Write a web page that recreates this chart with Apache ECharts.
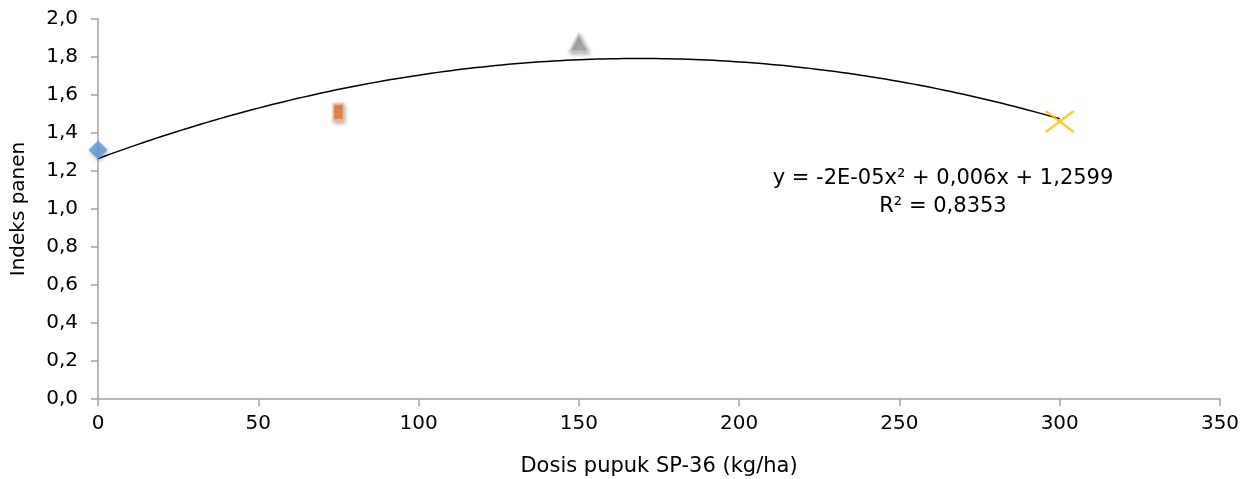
<!DOCTYPE html>
<html><head><meta charset="utf-8">
<script src="https://cdn.jsdelivr.net/npm/echarts@6/dist/echarts.min.js"></script>
<style>html,body{margin:0;padding:0;background:#fff}#c{width:1250px;height:479px}</style>
</head><body><div id="c"></div>
<script>
const doses = [0, 75, 150, 300];
const harvestIndex = [1.31, 1.51, 1.875, 1.46];
const xTicks = [0, 50, 100, 150, 200, 250, 300, 350];
const yTicks = [0, 0.2, 0.4, 0.6, 0.8, 1.0, 1.2, 1.4, 1.6, 1.8, 2.0];
const equationText = ['y = -2E-05x² + 0,006x + 1,2599', 'R² = 0,8353'];

// least-squares quadratic fit of the data (Excel-style polynomial trendline)
function polyFit2(xs, ys) {
  let S = [0,0,0,0,0], T = [0,0,0];
  for (let i = 0; i < xs.length; i++) {
    let p = 1;
    for (let k = 0; k < 5; k++) { S[k] += p; if (k < 3) T[k] += p * ys[i]; p *= xs[i]; }
  }
  const A = [[S[0],S[1],S[2],T[0]],[S[1],S[2],S[3],T[1]],[S[2],S[3],S[4],T[2]]];
  for (let i = 0; i < 3; i++) {
    for (let j = i+1; j < 3; j++) {
      const f = A[j][i] / A[i][i];
      for (let k = i; k < 4; k++) A[j][k] -= f * A[i][k];
    }
  }
  const c = [0,0,0];
  for (let i = 2; i >= 0; i--) {
    let s = A[i][3];
    for (let k = i+1; k < 3; k++) s -= A[i][k] * c[k];
    c[i] = s / A[i][i];
  }
  return c; // c0 + c1 x + c2 x^2
}
const coef = polyFit2(doses, harvestIndex);
const trend = [];
for (let x = doses[0]; x <= doses[doses.length-1]; x += 2) {
  trend.push([x, coef[0] + coef[1]*x + coef[2]*x*x]);
}

const font = '"DejaVu Sans", "Liberation Sans", Arial, sans-serif';
const axisColor = '#a3a3a3';
const shadow = {shadowBlur: 4, shadowColor: 'rgba(0,0,0,0.35)', shadowOffsetX: 1, shadowOffsetY: 2};
const fmt = v => v.toFixed(1).replace('.', ',');

const chart = echarts.init(document.getElementById('c'));
chart.setOption({
  animation: false,
  backgroundColor: '#fff',
  grid: {left: 98, right: 30, top: 19, bottom: 80, containLabel: false, outerBoundsMode: 'none'},
  xAxis: {
    type: 'value', min: 0, max: 350, interval: 50,
    name: 'Dosis pupuk SP-36 (kg/ha)', nameLocation: 'middle', nameGap: 57,
    nameTextStyle: {fontFamily: font, fontSize: 21, color: '#000'},
    axisLine: {show: true, lineStyle: {color: axisColor, width: 1.5}},
    axisTick: {show: true, length: 7, lineStyle: {color: axisColor, width: 1.5}},
    axisLabel: {fontFamily: font, fontSize: 20, color: '#000', margin: 15,
      formatter: v => xTicks.includes(v) ? String(v) : ''},
    splitLine: {show: false}
  },
  yAxis: {
    type: 'value', min: 0, max: 2.0, interval: 0.2,
    name: 'Indeks panen', nameLocation: 'middle', nameGap: 69, nameRotate: 90,
    nameTextStyle: {fontFamily: font, fontSize: 20, color: '#000'},
    axisLine: {show: true, lineStyle: {color: axisColor, width: 1.5}},
    axisTick: {show: true, length: 7, lineStyle: {color: axisColor, width: 1.5}},
    axisLabel: {fontFamily: font, fontSize: 20, color: '#000', margin: 20,
      formatter: v => fmt(yTicks.find(t => Math.abs(t - v) < 1e-6) ?? v)},
    splitLine: {show: false}
  },
  series: [
    {type: 'line', data: trend, showSymbol: false, smooth: false,
     lineStyle: {color: '#000', width: 1.5}, z: 1, silent: true},
    {type: 'scatter', data: [[doses[0], harvestIndex[0]]], symbol: 'diamond', symbolSize: [19, 19],
     itemStyle: Object.assign({color: '#5B9BD5'}, shadow), z: 3},
    {type: 'scatter', data: [[doses[1], harvestIndex[1]]], symbol: 'rect', symbolSize: [10, 16],
     itemStyle: Object.assign({color: '#ED7D31', borderColor: '#F9BE94', borderWidth: 2}, shadow), z: 3},
    {type: 'scatter', data: [[doses[2], harvestIndex[2]]], symbol: 'triangle', symbolSize: [18, 17],
     itemStyle: Object.assign({color: '#A5A5A5', borderColor: '#C9C9C9', borderWidth: 2}, shadow), z: 3},
    {type: 'scatter', data: [[doses[3], harvestIndex[3]]], symbol: 'path://M0,0L30,22M30,0L0,22', symbolSize: [28, 21],
     itemStyle: {color: 'rgba(0,0,0,0)', borderColor: '#FFC000', borderWidth: 2.5}, z: 3}
  ],
  graphic: [
    {type: 'text', x: 943, y: 179, style: {text: equationText[0], font: '21px ' + font, fill: '#000', textAlign: 'center', textVerticalAlign: 'middle'}},
    {type: 'text', x: 943, y: 207, style: {text: equationText[1], font: '21px ' + font, fill: '#000', textAlign: 'center', textVerticalAlign: 'middle'}}
  ]
});
</script></body></html>
